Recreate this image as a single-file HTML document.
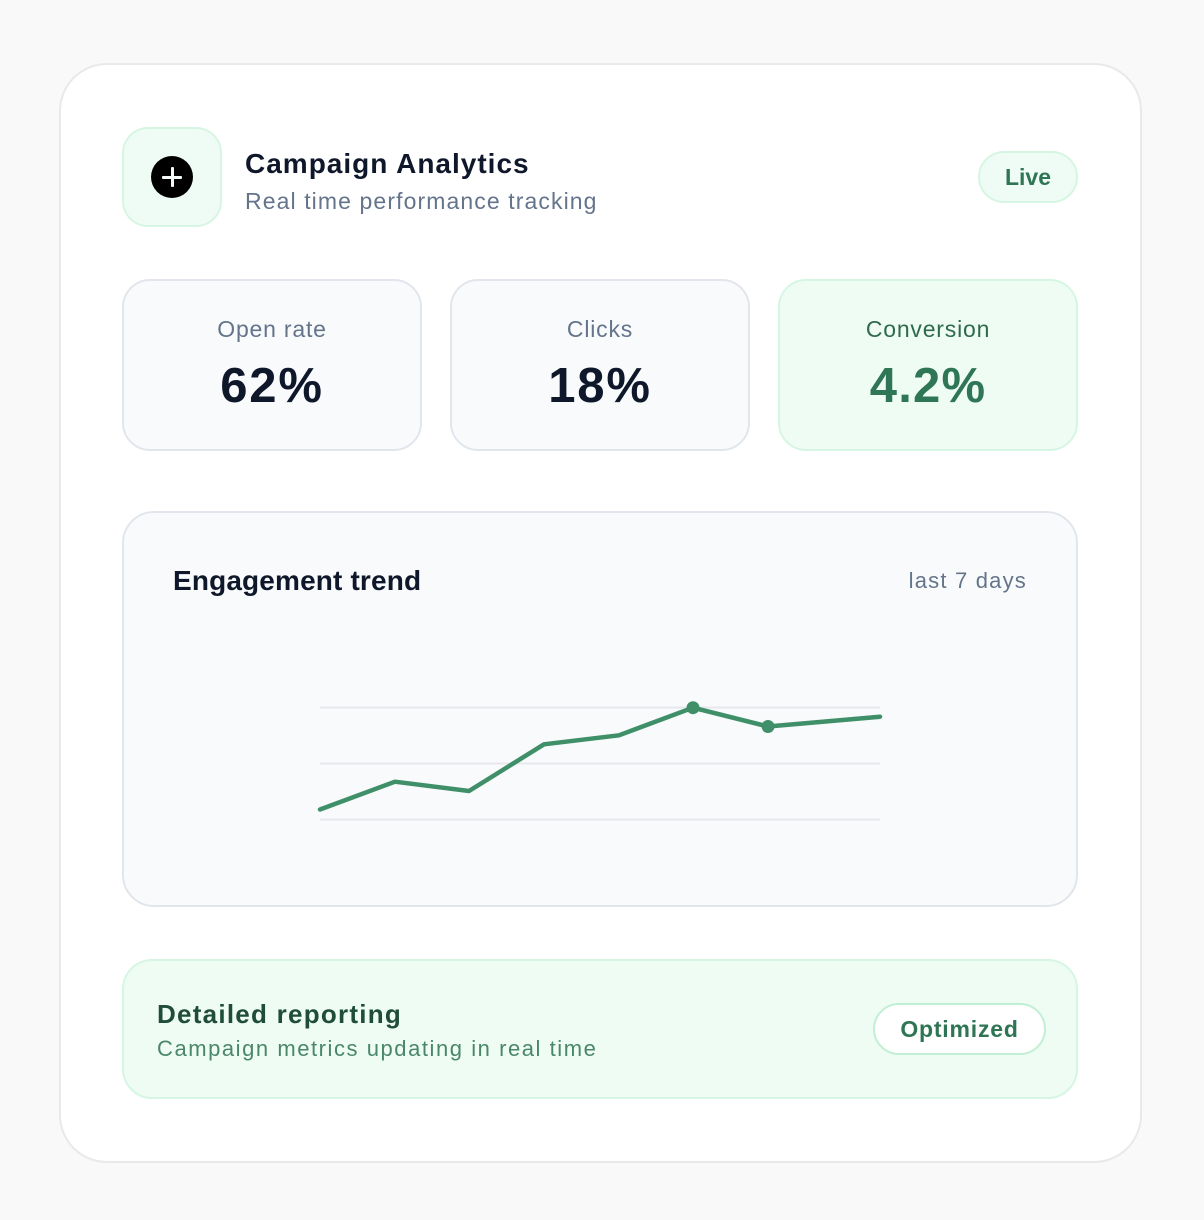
<!DOCTYPE html>
<html><head><meta charset="utf-8"><style>
*{margin:0;padding:0;box-sizing:border-box}
html,body{width:1204px;height:1220px;background:#f9f9f9;overflow:hidden}
body{position:relative;font-family:"Liberation Sans",sans-serif}
.a{position:absolute}
.t{position:absolute;line-height:1;white-space:nowrap}
.card{left:59px;top:63px;width:1083px;height:1100px;border-radius:48px;background:#fff;border:2px solid #e9e9e9}
.stat{top:279px;width:300px;height:172px;border-radius:28px;background:#f8fafc;border:2px solid #e2e6ec}
.lbl{top:318px;width:300px;text-align:center;font-size:23px;color:#64748b;letter-spacing:0.8px}
.val{top:361.5px;width:300px;text-align:center;font-size:49px;font-weight:bold;color:#0f172a;letter-spacing:1.8px}
</style></head><body>
<div class="a card"></div>
<div class="a" style="left:122px;top:127px;width:100px;height:100px;border-radius:26px;background:#effcf5;border:2px solid #d6f6e3"></div>
<div class="a" style="left:151px;top:156px;width:42px;height:42px;border-radius:50%;background:#000"></div>
<div class="a" style="left:162px;top:175.5px;width:20px;height:3px;background:#f4fbf7;border-radius:1px"></div>
<div class="a" style="left:170.5px;top:167px;width:3px;height:20px;background:#f4fbf7;border-radius:1px"></div>
<div class="t" style="left:245px;top:149.5px;font-size:28px;font-weight:bold;color:#0f172a;letter-spacing:1px">Campaign Analytics</div>
<div class="t" style="left:245px;top:190px;font-size:23px;color:#64748b;letter-spacing:1.1px">Real time performance tracking</div>
<div class="a" style="left:978px;top:151px;width:100px;height:52px;border-radius:26px;background:#effcf5;border:2px solid #d6f6e3"></div>
<div class="t" style="left:978px;top:166px;width:100px;text-align:center;font-size:23px;font-weight:bold;color:#2f7554">Live</div>

<div class="a stat" style="left:122px"></div>
<div class="a stat" style="left:450px"></div>
<div class="a stat" style="left:778px;background:#eefcf4;border-color:#d6f6e3"></div>
<div class="t lbl" style="left:122px">Open rate</div>
<div class="t lbl" style="left:450px">Clicks</div>
<div class="t lbl" style="left:778px;color:#2f6a4d">Conversion</div>
<div class="t val" style="left:122px">62%</div>
<div class="t val" style="left:450px">18%</div>
<div class="t val" style="left:778px;color:#2f7656;letter-spacing:1.2px">4.2%</div>

<div class="a" style="left:122px;top:511px;width:956px;height:396px;border-radius:32px;background:#f8fafc;border:2px solid #e2e6ec"></div>
<div class="t" style="left:173px;top:567px;font-size:28px;font-weight:bold;color:#0f172a;letter-spacing:0.15px">Engagement trend</div>
<div class="t" style="left:780px;width:247px;text-align:right;top:570px;font-size:22px;color:#64748b;letter-spacing:1.2px">last 7 days</div>
<svg class="a" style="left:0;top:0" width="1204" height="1220" viewBox="0 0 1204 1220">
<g stroke="#e6e8ec" stroke-width="2">
<line x1="320" y1="707.5" x2="880" y2="707.5"/>
<line x1="320" y1="763.5" x2="880" y2="763.5"/>
<line x1="320" y1="819.5" x2="880" y2="819.5"/>
</g>
<polyline fill="none" stroke="#3f8f68" stroke-width="4.5" stroke-linejoin="round" stroke-linecap="round" points="320,809.5 395,781.7 469,791 544,744.3 619,735.3 693,707.7 768,726.5 880,716.7"/>
<circle cx="693" cy="707.7" r="6.5" fill="#3f8f68"/>
<circle cx="768" cy="726.5" r="6.5" fill="#3f8f68"/>
</svg>

<div class="a" style="left:122px;top:959px;width:956px;height:140px;border-radius:30px;background:#eefcf4;border:2px solid #d6f6e3"></div>
<div class="t" style="left:157px;top:1001px;font-size:26px;font-weight:bold;color:#1f4d39;letter-spacing:1.25px">Detailed reporting</div>
<div class="t" style="left:157px;top:1038px;font-size:22px;color:#4a8768;letter-spacing:1.55px">Campaign metrics updating in real time</div>
<div class="a" style="left:873px;top:1003px;width:173px;height:52px;border-radius:26px;background:#fff;border:2px solid #c0efd4"></div>
<div class="t" style="left:873px;top:1018px;width:173px;text-align:center;font-size:23px;font-weight:bold;color:#2f7554;letter-spacing:0.8px">Optimized</div>
</body></html>
